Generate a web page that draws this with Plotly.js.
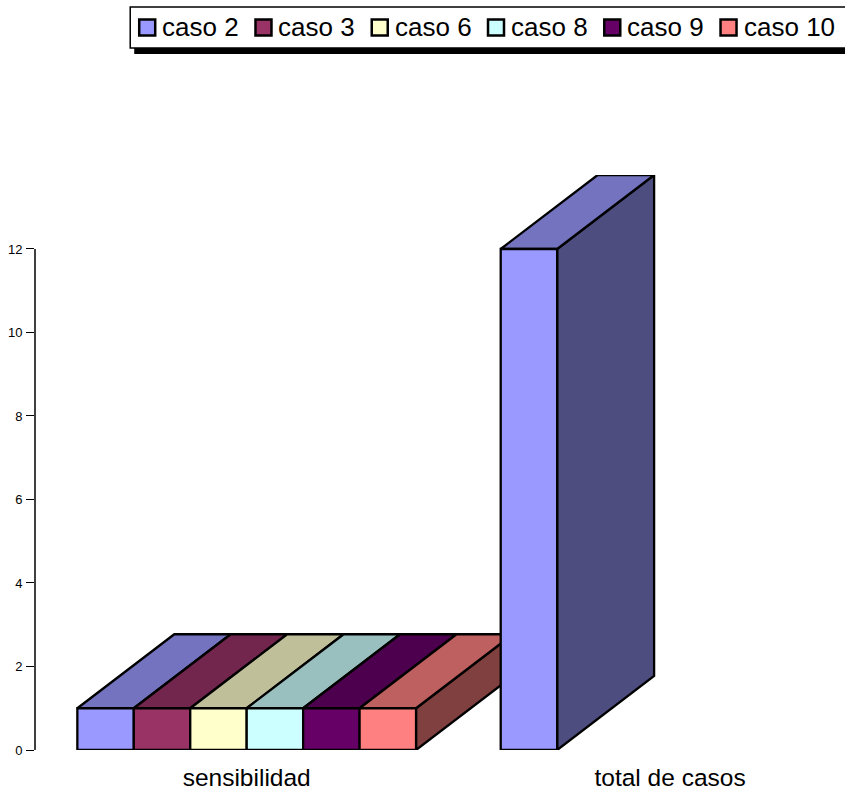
<!DOCTYPE html>
<html>
<head>
<meta charset="utf-8">
<script src="https://cdn.plot.ly/plotly-3.0.1.min.js"></script>
<style>html,body{margin:0;padding:0;background:#fff;overflow:hidden}</style>
</head>
<body>
<div id="chart" style="width:845px;height:797px"></div>
<script>
// Categories and series values
var categories = ['sensibilidad', 'total de casos'];
var seriesNames = ['caso 2', 'caso 3', 'caso 6', 'caso 8', 'caso 9', 'caso 10'];
var caso2 = [1, 12];
var caso3 = [1, null];
var caso6 = [1, null];
var caso8 = [1, null];
var caso9 = [1, null];
var caso10 = [1, null];
var yTicks = [0, 2, 4, 6, 8, 10, 12];

var seriesValues = [caso2, caso3, caso6, caso8, caso9, caso10];
var seriesColors = [[153,153,255],[153,51,102],[255,255,204],[204,255,255],[102,0,102],[255,128,128]];

var W = 845, H = 797;
var plotLeft = 34.75, plotTop = 175, plotBottom = 750;
var X_RANGE = [-0.5, 1.4132];
var Y_RANGE = [0, 13.772];

// Pixel positions to paper fractions, for the key above the plot
var paperX = function (p) { return (p - plotLeft) / (W - plotLeft); };
var paperY = function (p) { return (plotBottom - p) / (plotBottom - plotTop); };

// Oblique extrusion of every bar, in axis units
var DEPTH_X = 0.229, DEPTH_Y = 1.772;
var BAR_GAP = 0.2;
var OUTLINE = 2.3;
var barWidth = (1 - BAR_GAP) / seriesNames.length;

function rgb(c, k) {
  return 'rgb(' + c.map(function (v) { return Math.round(v * k); }).join(',') + ')';
}

function face(xs, ys, color) {
  return {
    type: 'scatter', mode: 'lines', x: xs, y: ys, xaxis: 'x', yaxis: 'y',
    fill: 'toself', fillcolor: color,
    line: { color: '#000', width: OUTLINE, shape: 'linear' },
    hoverinfo: 'skip', showlegend: false
  };
}

var traces = [];

// Side and top faces, left to right so nearer bars cover farther ones
categories.forEach(function (cat, g) {
  seriesValues.forEach(function (vals, s) {
    var v = vals[g];
    if (v === null) return;
    var x0 = g - (1 - BAR_GAP) / 2 + s * barWidth, x1 = x0 + barWidth;
    var c = seriesColors[s];
    traces.push(face(
      [x1, x1 + DEPTH_X, x1 + DEPTH_X, x1, x1],
      [0, DEPTH_Y, v + DEPTH_Y, v, 0], rgb(c, 0.5)));
    traces.push(face(
      [x0, x1, x1 + DEPTH_X, x0 + DEPTH_X, x0],
      [v, v, v + DEPTH_Y, v + DEPTH_Y, v], rgb(c, 0.75)));
  });
});

// Front faces sit on the overlaying axes, above all the oblique faces
seriesNames.forEach(function (name, s) {
  traces.push({
    type: 'bar', name: name, x: [0, 1], y: seriesValues[s],
    xaxis: 'x2', yaxis: 'y2', showlegend: false,
    marker: { color: rgb(seriesColors[s], 1), line: { color: '#000', width: OUTLINE } }
  });
});

var shapes = [
  // value axis spine, ending at the top tick
  { type: 'line', layer: 'above', xref: 'paper', yref: 'y', x0: 0, x1: 0, y0: 0, y1: 12,
    line: { color: '#000', width: 1.5 } },
  // key box with its drop shadow, running off the right edge
  { type: 'rect', layer: 'above', xref: 'paper', yref: 'paper',
    x0: paperX(134), x1: paperX(860), y0: paperY(54), y1: paperY(20),
    fillcolor: '#000', line: { width: 0 } },
  { type: 'rect', layer: 'above', xref: 'paper', yref: 'paper',
    x0: paperX(130), x1: paperX(860), y0: paperY(48), y1: paperY(7),
    fillcolor: '#fff', line: { color: '#000', width: 1.5 } }
];
var annotations = [];

// Key entries: a swatch and its series name
var KEY_LEFT = 139, KEY_STEP = 116.3, KEY_SIZE = 16;
seriesNames.forEach(function (name, s) {
  var left = KEY_LEFT + s * KEY_STEP;
  shapes.push({
    type: 'rect', layer: 'above', xref: 'paper', yref: 'paper',
    x0: paperX(left), x1: paperX(left + KEY_SIZE), y0: paperY(35.5), y1: paperY(35.5 - KEY_SIZE),
    fillcolor: rgb(seriesColors[s], 1), line: { color: '#000', width: 2.5 }
  });
  annotations.push({
    xref: 'paper', yref: 'paper', x: paperX(left + 22), y: paperY(27),
    xanchor: 'left', yanchor: 'middle', text: name, showarrow: false,
    font: { size: 26, color: '#000' }, borderpad: 0
  });
});

var layout = {
  width: W, height: H,
  paper_bgcolor: '#fff', plot_bgcolor: 'rgba(0,0,0,0)',
  font: { family: '"Liberation Sans", Arial, sans-serif', color: '#000' },
  margin: { l: plotLeft, r: 0, t: plotTop, b: H - plotBottom, pad: 0, autoexpand: false },
  showlegend: false,
  barmode: 'group', bargap: BAR_GAP, bargroupgap: 0,
  xaxis: {
    range: X_RANGE, tickmode: 'array', tickvals: [0, 1], ticktext: categories,
    showgrid: false, zeroline: false, showline: false, ticks: '',
    tickfont: { size: 24.5 }, ticklabelstandoff: 10
  },
  yaxis: {
    range: Y_RANGE, tickmode: 'array', tickvals: yTicks,
    showgrid: false, zeroline: false, showline: false,
    ticks: 'outside', ticklen: 8, tickwidth: 1, tickcolor: '#000',
    tickfont: { size: 13, color: '#000' }, ticklabelstandoff: 1
  },
  xaxis2: { range: X_RANGE, overlaying: 'x', visible: false },
  yaxis2: { range: Y_RANGE, overlaying: 'y', visible: false },
  shapes: shapes,
  annotations: annotations
};

Plotly.newPlot('chart', traces, layout, { displayModeBar: false, responsive: false });
</script>
</body>
</html>
